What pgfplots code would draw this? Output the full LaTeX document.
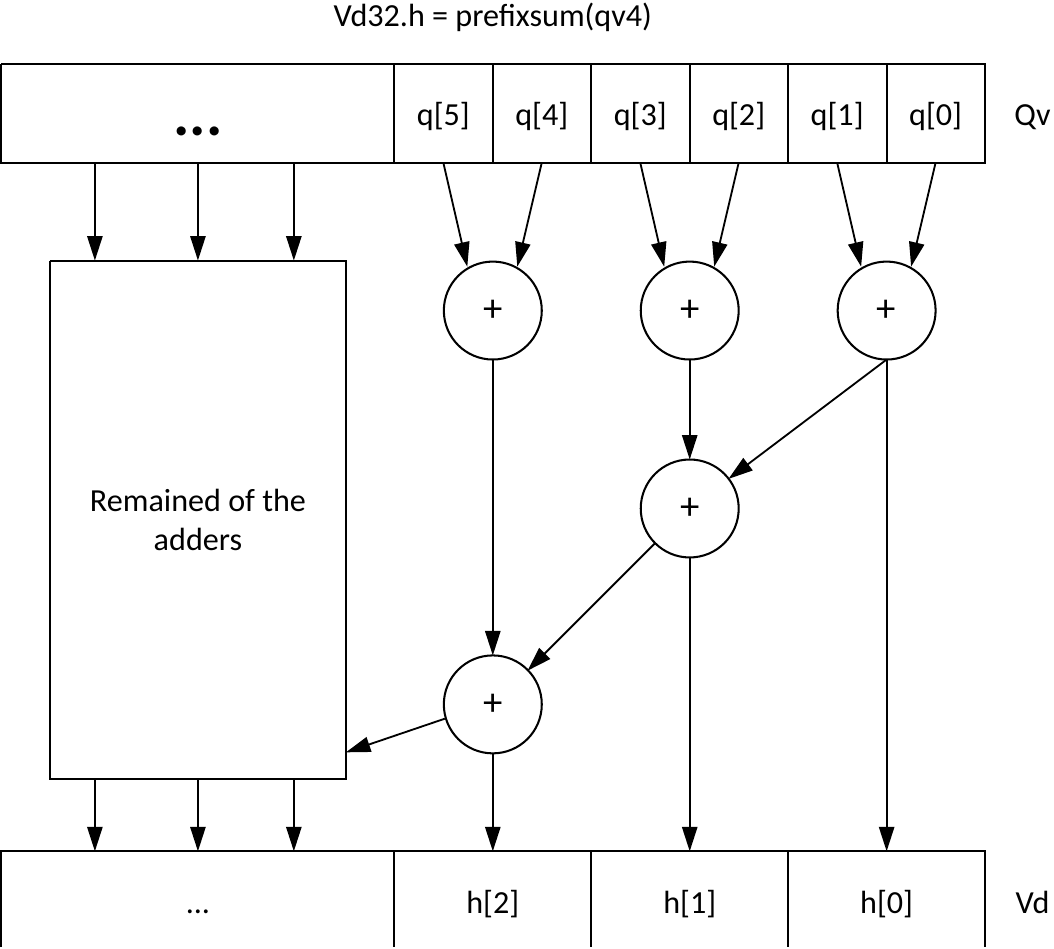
\documentclass[border=0pt]{standalone}
\usepackage{pgfplots}
\pgfplotsset{compat=1.18}
\usepackage{fontspec}
\setmainfont{Carlito}
\usetikzlibrary{arrows.meta}
\tikzset{
  ln/.style={black, solid, line width=2pt, mark=none},
  arr/.style={black, solid, mark=none, line width=1.8pt, -{Triangle[length=24pt,width=15pt]}},
  txt/.style={anchor=base, font=\fontsize{31.5}{38}\selectfont},
  pl/.style={font=\fontsize{38}{40}\selectfont},
}
\begin{document}
\begin{tikzpicture}
\begin{axis}[
  scale only axis, width=1054pt, height=937pt,
  xmin=0, xmax=1054, ymin=0, ymax=937, y dir=reverse,
  hide axis, clip=false,
]
% top register
\addplot[ln] coordinates {(13,71) (977,71) (977,168) (13,168) (13,71)};
\addplot[ln] coordinates {(398,71) (398,168)};
\addplot[ln] coordinates {(495,71) (495,168)};
\addplot[ln] coordinates {(591,71) (591,168)};
\addplot[ln] coordinates {(688,71) (688,168)};
\addplot[ln] coordinates {(784,71) (784,168)};
\addplot[ln] coordinates {(881,71) (881,168)};
% remained box
\addplot[ln] coordinates {(61,264) (351,264) (351,772) (61,772) (61,264)};
% bottom register
\addplot[ln] coordinates {(13,937) (13,843) (977,843) (977,937)};
\addplot[ln] coordinates {(398,843) (398,937)};
\addplot[ln] coordinates {(591,843) (591,937)};
\addplot[ln] coordinates {(784,843) (784,937)};
% arrows top -> remained box
\addplot[arr] coordinates {(105,168) (105,264)};
\addplot[arr] coordinates {(206,168) (206,264)};
\addplot[arr] coordinates {(300,168) (300,264)};
% arrows remained box -> bottom
\addplot[arr] coordinates {(105,772) (105,843)};
\addplot[arr] coordinates {(206,772) (206,843)};
\addplot[arr] coordinates {(300,772) (300,843)};
% cells -> first adders
\addplot[arr] coordinates {(446.5,168) (470,270)};
\addplot[arr] coordinates {(543,168) (519,270)};
\addplot[arr] coordinates {(639.5,168) (663,270)};
\addplot[arr] coordinates {(736,168) (712,270)};
\addplot[arr] coordinates {(832.5,168) (856,270)};
\addplot[arr] coordinates {(929,168) (905,270)};
% adder tree
\addplot[arr] coordinates {(495,361) (495,651)};
\addplot[arr] coordinates {(688,361) (688,459)};
\addplot[arr] coordinates {(881,361) (726,478)};
\addplot[arr] coordinates {(881,361) (881,843)};
\addplot[arr] coordinates {(688,555) (688,843)};
\addplot[arr] coordinates {(654,541) (529,666)};
\addplot[arr] coordinates {(448,713) (351,746)};
\addplot[arr] coordinates {(495,747) (495,843)};
% adders
\addplot[only marks, mark=o, mark size=48pt,
  mark options={draw=black, solid, line width=2pt}]
  coordinates {(495,313) (688,313) (881,313) (688,507) (495,699)};
% texts
\node[txt] at (axis cs:495,35) {Vd32.h = prefixsum(qv4)};
\node[anchor=base, font=\fontsize{60}{60}\selectfont\bfseries] at (axis cs:206,141) {...};
\node[txt] at (axis cs:446.5,132) {q[5]};
\node[txt] at (axis cs:543,132) {q[4]};
\node[txt] at (axis cs:639.5,132) {q[3]};
\node[txt] at (axis cs:736,132) {q[2]};
\node[txt] at (axis cs:832.5,132) {q[1]};
\node[txt] at (axis cs:929,132) {q[0]};
\node[txt] at (axis cs:1024,132) {Qv};
\node[txt] at (axis cs:495,904) {h[2]};
\node[txt] at (axis cs:688,904) {h[1]};
\node[txt] at (axis cs:881,904) {h[0]};
\node[txt] at (axis cs:206,904) {...};
\node[txt] at (axis cs:1024,904) {Vd};
\node[pl] at (axis cs:495,313) {+};
\node[pl] at (axis cs:688,313) {+};
\node[pl] at (axis cs:881,313) {+};
\node[pl] at (axis cs:688,507) {+};
\node[pl] at (axis cs:495,699) {+};
\node[align=center, font=\fontsize{31.5}{38}\selectfont] at (axis cs:206,518) {Remained of the\\adders};
\end{axis}
\end{tikzpicture}
\end{document}
